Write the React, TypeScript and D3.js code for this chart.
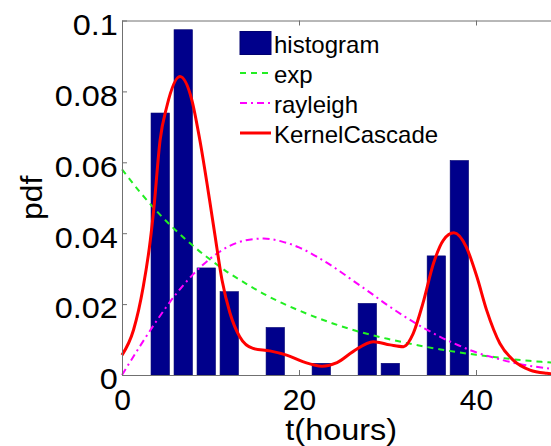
import React, { useEffect, useRef } from 'react';
import * as d3 from 'd3';

// histogram bins (centers in hours) and pdf heights
const binCenters = [4.32, 6.92, 9.52, 12.12, 14.72, 17.32, 19.92, 22.52, 25.12, 27.72, 30.32, 32.92, 35.52, 38.12];
const binValues = [0.0739, 0.0974, 0.0302, 0.0235, 0, 0.0134, 0, 0.0033, 0, 0.0202, 0.0033, 0, 0.0336, 0.0605];
const binWidth = 2.08;

// fitted curves
const fitX = [0, 2, 4, 6, 8, 10, 12, 14, 16, 18, 20, 22, 24, 26, 28, 30, 32, 34, 36, 38, 40, 42, 44, 46, 48, 50];
const expY = [0.058, 0.0517, 0.046, 0.041, 0.0365, 0.0325, 0.0289, 0.0258, 0.0229, 0.0204, 0.0182, 0.0162, 0.0144, 0.0128, 0.0114, 0.0102, 0.0091, 0.0081, 0.0072, 0.0064, 0.0057, 0.0051, 0.0045, 0.004, 0.0036, 0.0032];
const rayleighY = [0, 0.008, 0.0156, 0.0225, 0.0283, 0.0329, 0.0362, 0.038, 0.0385, 0.0377, 0.036, 0.0334, 0.0303, 0.0268, 0.0233, 0.0197, 0.0164, 0.0134, 0.0107, 0.0084, 0.0064, 0.0049, 0.0036, 0.0026, 0.0019, 0.0013];

const kernelX = [0, 1.3, 2.4, 3.2, 3.6, 4.3, 5.05, 6.55, 7.9, 8.8, 9.9, 10.5, 11.3, 12.2, 13.3, 14.8, 16.7, 18.6, 20.5, 22.6, 24.3, 26.1, 28.4, 30.3, 31.8, 32.9, 34.0, 35.2, 36.3, 37.5, 38.9, 40.1, 41.2, 42.7, 44.2, 46.1, 48.0, 50];
const kernelY = [0.0056, 0.0127, 0.0249, 0.038, 0.047, 0.0662, 0.0756, 0.0842, 0.0775, 0.0662, 0.0493, 0.0395, 0.0268, 0.0175, 0.0108, 0.0075, 0.0068, 0.0056, 0.0037, 0.0025, 0.0035, 0.0066, 0.0094, 0.0085, 0.008, 0.0117, 0.0202, 0.0315, 0.038, 0.0401, 0.0361, 0.0277, 0.0183, 0.0089, 0.0042, 0.0014, 0.0005, 0.0002];

const xTicks = [0, 20, 40];
const yTicks = [0, 0.02, 0.04, 0.06, 0.08, 0.1];
const legendNames = ['histogram', 'exp', 'rayleigh', 'KernelCascade'];

const width = 551;
const height = 446;
const font = '"Liberation Sans", Arial, Helvetica, sans-serif';

const App: React.FC = () => {
  const svgRef = useRef<SVGSVGElement>(null);

  useEffect(() => {
    if (!svgRef.current) return;
    const svg = d3.select(svgRef.current);
    svg.selectAll('*').remove();

    const x = d3.scaleLinear().domain([0, 50]).range([122, 564.5]);
    const y = d3.scaleLinear().domain([0, 0.1]).range([375, 20.5]);

    // bars
    svg.append('g')
      .selectAll('rect')
      .data(binCenters.map((c, i) => ({ c, v: binValues[i] })).filter(d => d.v > 0))
      .join('rect')
      .attr('x', d => x(d.c - binWidth / 2))
      .attr('width', d => x(d.c + binWidth / 2) - x(d.c - binWidth / 2))
      .attr('y', d => y(d.v))
      .attr('height', d => y(0) - y(d.v))
      .attr('fill', '#00008b')
      .attr('stroke', '#000070')
      .attr('stroke-width', 0.6);

    const line = d3.line<[number, number]>()
      .x(d => x(d[0]))
      .y(d => y(d[1]))
      .curve(d3.curveMonotoneX);

    // exp
    svg.append('path')
      .attr('d', line(fitX.map((v, i) => [v, expY[i]] as [number, number])))
      .attr('fill', 'none')
      .attr('stroke', '#22ee22')
      .attr('stroke-width', 2)
      .attr('stroke-dasharray', '6,5');

    // rayleigh
    svg.append('path')
      .attr('d', line(fitX.map((v, i) => [v, rayleighY[i]] as [number, number])))
      .attr('fill', 'none')
      .attr('stroke', '#ff00ff')
      .attr('stroke-width', 2)
      .attr('stroke-dasharray', '7,4,2,4');

    // kernel cascade
    svg.append('path')
      .attr('d', line(kernelX.map((v, i) => [v, kernelY[i]] as [number, number])))
      .attr('fill', 'none')
      .attr('stroke', '#ff0000')
      .attr('stroke-width', 3);

    // axes
    const axisColor = '#707070';
    const yAxis = svg.append('g')
      .attr('transform', `translate(${x(0)},0)`)
      .call(d3.axisLeft(y).tickValues(yTicks).tickFormat(d => d3.format('~g')(d as number)).tickSizeInner(-5).tickSizeOuter(0).tickPadding(4));
    yAxis.select('.domain').attr('stroke', axisColor);
    yAxis.selectAll('line').attr('stroke', axisColor);
    yAxis.selectAll('text')
      .attr('dy', '0.46em')
      .attr('font-size', 30)
      .attr('font-family', font)
      .attr('fill', '#000')
      .attr('transform', 'scale(1.08,1)');

    const xAxis = svg.append('g')
      .attr('transform', `translate(0,${y(0)})`)
      .call(d3.axisBottom(x).tickValues(xTicks).tickFormat(d3.format('d')).tickSizeInner(-5).tickSizeOuter(0).tickPadding(14));
    xAxis.select('.domain').attr('stroke', axisColor);
    xAxis.selectAll('line').attr('stroke', axisColor);
    xAxis.selectAll('text')
      .attr('font-size', 30)
      .attr('font-family', font)
      .attr('fill', '#000');

    const topAxis = svg.append('g')
      .attr('transform', `translate(0,${y(0.1)})`)
      .call(d3.axisTop(x).tickValues(xTicks).tickFormat(() => '').tickSizeInner(-5).tickSizeOuter(0));
    topAxis.select('.domain').attr('stroke', axisColor);
    topAxis.selectAll('line').attr('stroke', axisColor);

    // axis labels
    svg.append('text')
      .attr('transform', `translate(${x(25) - 2},439.5) scale(1.12,1)`)
      .attr('text-anchor', 'middle')
      .attr('font-size', 29)
      .attr('font-family', font)
      .text('t(hours)');

    svg.append('text')
      .attr('transform', `translate(42,${(y(0) + y(0.1)) / 2}) rotate(-90) scale(1.1,1)`)
      .attr('text-anchor', 'middle')
      .attr('font-size', 29)
      .attr('font-family', font)
      .text('pdf');

    // legend
    const lg = svg.append('g').attr('transform', 'translate(240,0)');
    legendNames.forEach((name, i) => {
      const base = 53 + i * 30;
      const mid = base - 10;
      if (i === 0) {
        lg.append('rect')
          .attr('x', 0).attr('y', 31.5).attr('width', 31).attr('height', 23)
          .attr('fill', '#00008b').attr('stroke', '#000070');
      } else {
        const ln = lg.append('line')
          .attr('x1', 0).attr('x2', 31).attr('y1', mid).attr('y2', mid);
        if (i === 1) ln.attr('stroke', '#22ee22').attr('stroke-width', 2).attr('stroke-dasharray', '6,5');
        if (i === 2) ln.attr('stroke', '#ff00ff').attr('stroke-width', 2).attr('stroke-dasharray', '7,4,2,4');
        if (i === 3) ln.attr('stroke', '#ff0000').attr('stroke-width', 3);
      }
      lg.append('text')
        .attr('x', 34)
        .attr('y', base)
        .attr('font-size', 24)
        .attr('font-family', font)
        .text(name);
    });
  }, []);

  return (
    <svg
      ref={svgRef}
      width={width}
      height={height}
      style={{ position: 'absolute', left: 0, top: 0, background: '#fff' }}
    />
  );
};

export default App;
